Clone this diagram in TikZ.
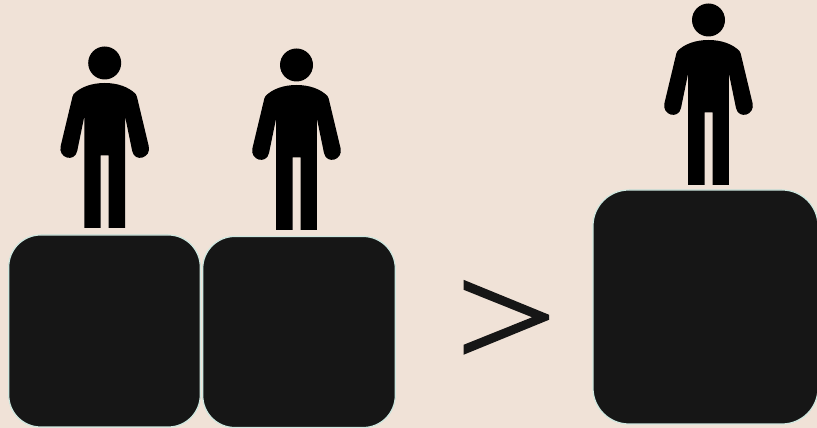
\documentclass[tikz,border=0pt]{standalone}
\usepackage{fontspec}
\usetikzlibrary{positioning}
\newfontfamily\signfont[FakeBold=1.5]{Liberation Serif}
\definecolor{paper}{HTML}{F0E2D7}
\definecolor{block}{HTML}{161616}
\definecolor{rim}{HTML}{CFE8E0}
\tikzset{
  blockbox/.style={draw=rim,fill=block,line width=1.2pt,inner sep=0pt,rounded corners=32pt},
  person/.pic={
    \fill[black] (0,165) circle (16.5);
    \fill[black] (0,145) .. controls (13,145) and (24,141) .. (31,134) .. controls (32,133) and (32.5,130) .. (33,128)
      -- (44,82) .. controls (47,70) and (30,65) .. (27.5,77)
      -- (20.3,112) -- (20.3,0) -- (4,0) -- (4,72.5) -- (-4,72.5) -- (-4,0) -- (-20.3,0) -- (-20.3,112)
      -- (-27.5,77) .. controls (-30,65) and (-47,70) .. (-44,82)
      -- (-33,128) .. controls (-32.5,130) and (-32,133) .. (-31,134) .. controls (-24,141) and (-13,145) .. (0,145) -- cycle;
  }
}
\begin{document}
\begin{tikzpicture}[x=1pt,y=1pt]
\fill[paper] (0,0) rectangle (817,428);
\useasboundingbox (0,0) rectangle (817,428);
\node[blockbox,minimum width=191.5pt,minimum height=192pt] (boxa) at (104.5,97) {};
\node[blockbox,minimum width=192.5pt,minimum height=191pt] (boxb) at (299,96) {};
\node[blockbox,minimum width=225pt,minimum height=234pt,rounded corners=36pt] (boxc) at (705.5,121) {};
\pic at (104.7,200) {person};
\pic at (296.5,198) {person};
\pic at (708.5,243) {person};
\node[text=block,xscale=17.8,yscale=14.8,inner sep=0pt,font=\signfont] (sign) at (506,104) {>};
\end{tikzpicture}
\end{document}
